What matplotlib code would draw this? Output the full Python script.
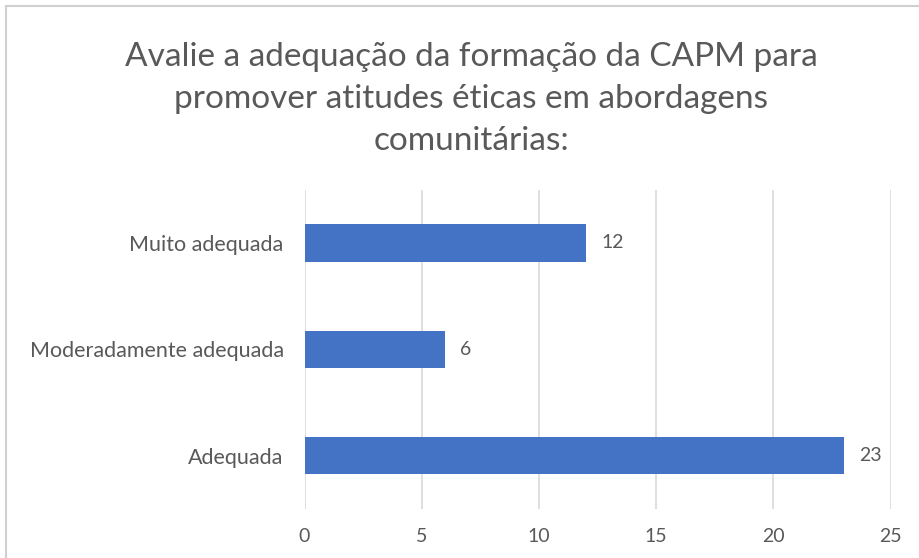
import matplotlib.pyplot as plt
from matplotlib.patches import Rectangle

plt.rcParams['font.family'] = ['Lato', 'DejaVu Sans']

title = "Avalie a adequação da formação da CAPM para\npromover atitudes éticas em abordagens\ncomunitárias:"
categories = ['Adequada', 'Moderadamente adequada', 'Muito adequada']
values = [23, 6, 12]
xticks = [0, 5, 10, 15, 20, 25]

text_color = '#595959'
bar_color = '#4472C4'
grid_color = '#D9D9D9'

fig = plt.figure(figsize=(9.2, 5.58), dpi=100)
ax = fig.add_axes([0.331, 0.088, 0.637, 0.572])

ax.barh(range(len(categories)), values, height=0.35, color=bar_color, zorder=3)
for i, v in enumerate(values):
    ax.text(v + 0.65, i, str(v), va='center', ha='left', fontsize=14, color=text_color)

ax.set_xlim(0, 25)
ax.set_ylim(-0.5, len(categories) - 0.5)
ax.set_xticks(xticks)
ax.set_xticklabels([str(t) for t in xticks], fontsize=14, color=text_color)
ax.set_yticks(range(len(categories)))
ax.set_yticklabels(categories, fontsize=15.5, color=text_color)
ax.tick_params(axis='both', length=0)
ax.tick_params(axis='x', pad=14)
ax.tick_params(axis='y', pad=15)
ax.grid(axis='x', color=grid_color, linewidth=1.2, zorder=0)
for s in ax.spines.values():
    s.set_visible(False)

fig.text(0.512, 0.925, title, ha='center', va='top', fontsize=24, color=text_color, linespacing=1.5)

# chart frame
fig.patches.append(Rectangle((0.006, -0.05), 1.2, 1.039, transform=fig.transFigure,
                             fill=False, edgecolor='#D0D0D0', linewidth=1.5))

fig.savefig('out.png', dpi=100)
